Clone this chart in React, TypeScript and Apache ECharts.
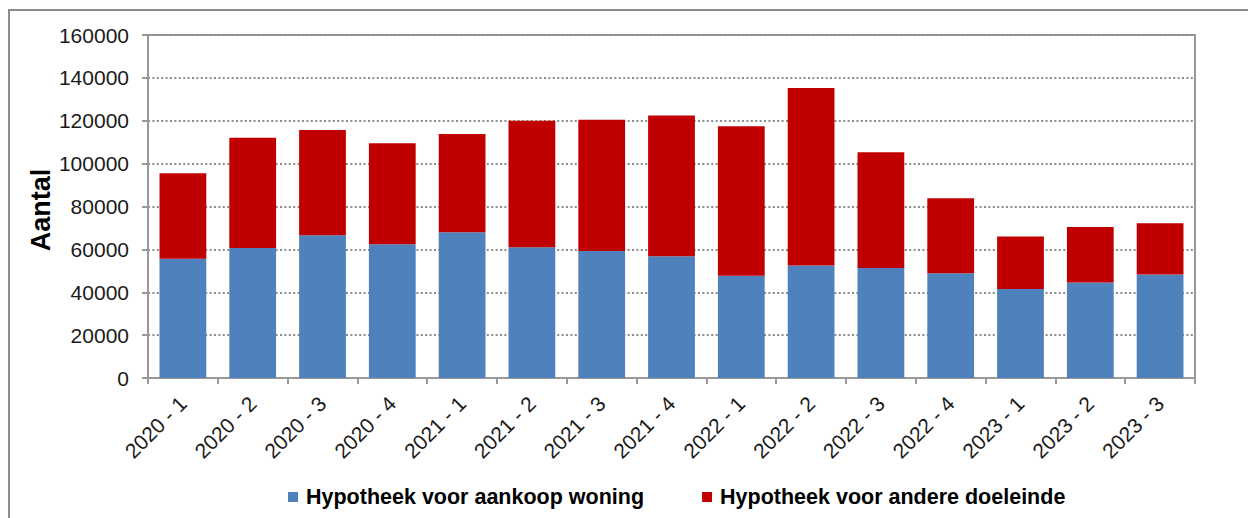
import React, { useEffect, useRef } from "react";
import * as echarts from "echarts";

const categories = [
  "2020 - 1", "2020 - 2", "2020 - 3", "2020 - 4",
  "2021 - 1", "2021 - 2", "2021 - 3", "2021 - 4",
  "2022 - 1", "2022 - 2", "2022 - 3", "2022 - 4",
  "2023 - 1", "2023 - 2", "2023 - 3",
];
const aankoopWoning = [
  55600, 60600, 66600, 62400, 68000, 61000, 59300, 56800,
  47700, 52500, 51300, 48900, 41500, 44600, 48300,
];
const andereDoeleinde = [
  39900, 51500, 49100, 47100, 45800, 59000, 61200, 65600,
  69700, 82800, 54000, 35000, 24500, 25800, 23900,
];
const seriesNames = ["Hypotheek voor aankoop woning", "Hypotheek voor andere doeleinde"];

export default function App() {
  const ref = useRef<HTMLDivElement>(null);
  useEffect(() => {
    if (!ref.current) return;
    const chart = echarts.init(ref.current, undefined, { renderer: "svg" });
    const font = "'Liberation Sans', Arial, sans-serif";
    chart.setOption({
      animation: false,
      backgroundColor: "#ffffff",
      textStyle: { fontFamily: font },
      grid: {
        left: 148, right: 53, top: 35, bottom: 140,
        show: true, borderColor: "#999999", borderWidth: 2,
      },
      graphic: [
        {
          type: "rect", shape: { x: 9, y: 10, width: 1400, height: 700 },
          style: { fill: "none", stroke: "#8c8c8c", lineWidth: 2 }, silent: true,
        },
        {
          type: "text", x: 41, y: 210, rotation: Math.PI / 2,
          style: {
            text: "Aantal", font: `bold 27px ${font}`, fill: "#000",
            textAlign: "center", textVerticalAlign: "middle",
          },
        },
      ],
      legend: {
        left: 283, top: 481, itemWidth: 10, itemHeight: 10, itemGap: 58,
        icon: "rect",
        textStyle: { fontFamily: font, fontSize: 21.5, fontWeight: "bold", color: "#000", padding: [0, 0, 0, 3] },
        data: seriesNames,
      },
      xAxis: {
        type: "category", data: categories,
        axisLine: { lineStyle: { color: "#999999", width: 2 } },
        axisTick: { show: true, length: 6, lineStyle: { color: "#999999", width: 2 } },
        axisLabel: { rotate: 45, fontSize: 21, color: "#1a1a1a", margin: 22, interval: 0, fontFamily: font },
      },
      yAxis: {
        type: "value", min: 0, max: 160000, interval: 20000,
        axisLine: { show: true, lineStyle: { color: "#999999", width: 2 } },
        axisTick: { show: true, length: 6, lineStyle: { color: "#999999", width: 2 } },
        axisLabel: { fontSize: 21, color: "#1a1a1a", margin: 19, fontFamily: font, formatter: (v: number) => String(v) },
        splitLine: { lineStyle: { color: "#8c8c8c", width: 2, type: [2, 2.4] } },
      },
      series: [
        {
          name: seriesNames[0], type: "bar", stack: "total", data: aankoopWoning,
          barCategoryGap: "33%", itemStyle: { color: "#4f81bd" },
        },
        {
          name: seriesNames[1], type: "bar", stack: "total", data: andereDoeleinde,
          barCategoryGap: "33%", itemStyle: { color: "#c00000" },
        },
      ],
    });
    return () => chart.dispose();
  }, []);
  return (
    <div
      ref={ref}
      style={{ position: "fixed", left: 0, top: 0, width: 1248, height: 518 }}
    />
  );
}
